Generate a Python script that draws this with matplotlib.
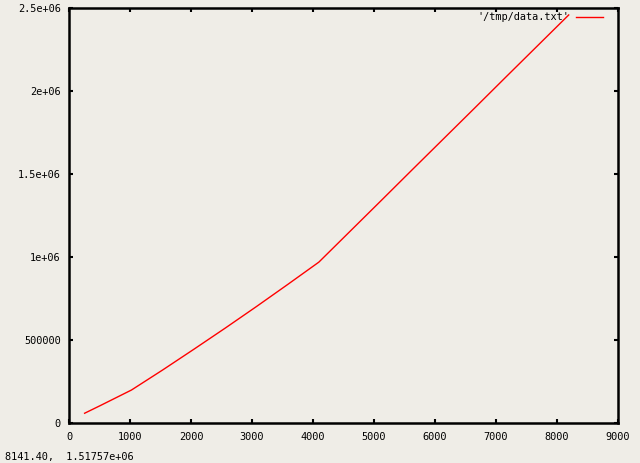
import numpy as np
import matplotlib.pyplot as plt

# Значения
x = [256, 512, 768, 1024, 1536, 2048, 2560, 3072, 3584, 4096,
     4608, 5120, 5632, 6144, 6656, 7168, 7680, 8192]
y = [57000, 103000, 150000, 197000, 318000, 443000, 570000, 700000, 833000, 968000,
     1154000, 1340000, 1527000, 1713000, 1899000, 2086000, 2272000, 2458000]

xticks = [0, 1000, 2000, 3000, 4000, 5000, 6000, 7000, 8000, 9000]
yticks = [0, 500000, 1000000, 1500000, 2000000, 2500000]
ylabels = ['0', '500000', '1e+06', '1.5e+06', '2e+06', '2.5e+06']

bg = '#efede7'
plt.rcParams['font.family'] = 'DejaVu Sans Mono'

fig = plt.figure(figsize=(6.4, 4.63), dpi=100, facecolor=bg)
ax = fig.add_axes([69/640, 1 - 422.7/463, 549/640, 414.7/463])
ax.set_facecolor(bg)

ax.plot(x, y, color='red', lw=1.0, label="'/tmp/data.txt'")

ax.set_xlim(0, 9000)
ax.set_ylim(0, 2500000)
ax.set_xticks(xticks)
ax.set_xticklabels([str(v) for v in xticks])
ax.set_yticks(yticks)
ax.set_yticklabels(ylabels)
ax.tick_params(direction='in', length=3, width=1.5, labelsize=7.4,
               top=True, right=True, pad=6)
ax.tick_params(axis='x', pad=7)
for s in ax.spines.values():
    s.set_linewidth(1.8)

leg = ax.legend(loc='upper right', frameon=False, fontsize=7.4,
                handlelength=2.6, handletextpad=0.6, borderaxespad=0.3,
                markerfirst=False, bbox_to_anchor=(0.985, 1.007))

fig.text(5/640, 1 - 457/463, '8141.40,  1.51757e+06', fontsize=7.4, va='center')

fig.savefig('out.png', dpi=100, facecolor=bg)
